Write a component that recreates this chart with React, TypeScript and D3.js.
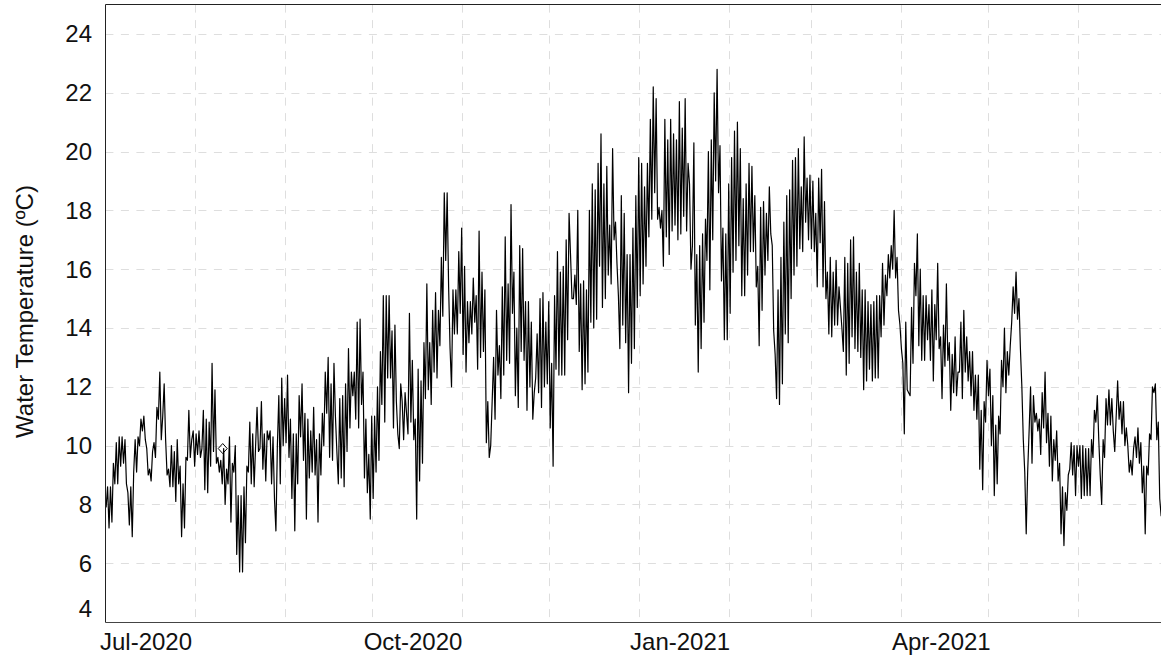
import React from "react";
import * as d3 from "d3";

// Water temperature (ºC), two readings per day (first and second half of each day)
const jul2020 = [7.9, 8.6, 7.2, 8.6, 7.4, 9.4, 8.7, 10.1, 8.7, 10.3, 9.3, 10.3, 9.4, 10.2, 8.7, 8.4, 7.3, 8.6, 6.9, 9.1, 10.2, 9.1, 10.3, 10.0, 10.9, 10.5, 11.0, 10.2, 9.9, 9.0, 9.2, 8.8, 9.8, 10.1, 9.6, 11.3, 10.9, 12.5, 10.2, 11.0, 12.1, 10.2, 9.0, 9.2, 8.6, 10.0, 8.6, 9.8, 8.1, 10.2, 8.7, 9.3, 6.9, 8.7, 7.2, 9.6, 9.5, 11.2, 9.6, 10.2, 10.5, 9.3];
const aug2020 = [10.4, 9.7, 10.5, 9.6, 9.9, 11.2, 8.5, 10.9, 8.4, 10.8, 9.3, 12.8, 9.8, 11.9, 9.4, 9.6, 9.1, 9.5, 8.7, 9.9, 8.0, 9.2, 8.7, 10.3, 7.4, 9.4, 9.1, 10.0, 6.3, 8.3, 5.7, 8.3, 5.7, 8.6, 6.7, 9.3, 9.1, 10.8, 8.7, 10.4, 8.6, 10.0, 11.3, 9.8, 9.9, 11.5, 9.2, 10.4, 8.8, 10.5, 10.2, 10.5, 8.7, 10.3, 8.2, 7.1, 10.0, 11.7, 8.7, 12.3, 10.0, 11.6];
const sep2020 = [10.1, 12.4, 9.6, 10.9, 8.2, 10.4, 7.1, 10.4, 8.7, 11.7, 10.3, 12.1, 9.5, 11.1, 7.5, 10.9, 8.9, 10.5, 9.1, 11.3, 9.0, 10.2, 7.4, 10.4, 9.0, 11.1, 10.0, 12.5, 11.1, 13.0, 9.6, 12.1, 9.5, 12.8, 11.0, 9.8, 8.7, 11.6, 8.9, 11.7, 8.6, 12.1, 9.8, 13.3, 10.6, 12.5, 11.7, 12.5, 10.9, 14.2, 10.6, 14.3, 11.4, 12.5, 8.9, 10.9, 8.4, 9.7, 7.5, 11.0];
const oct2020 = [8.2, 11.0, 9.1, 12.0, 9.5, 13.2, 11.4, 15.1, 10.8, 15.1, 12.3, 15.1, 12.3, 13.9, 10.6, 14.1, 11.5, 10.4, 9.9, 12.1, 11.5, 10.2, 11.8, 11.1, 10.4, 14.5, 10.8, 12.9, 10.2, 10.9, 7.5, 12.6, 8.8, 12.2, 9.4, 13.5, 11.6, 15.5, 11.9, 13.5, 11.4, 14.6, 12.5, 15.2, 12.3, 14.6, 13.4, 16.4, 14.4, 18.6, 16.3, 18.6, 15.4, 13.3, 12.0, 15.3, 13.8, 15.3, 13.8, 16.6, 14.5, 17.4];
const nov2020 = [13.1, 16.1, 12.5, 14.9, 13.5, 14.9, 13.8, 15.7, 14.2, 15.1, 12.6, 17.3, 13.0, 15.9, 13.2, 15.3, 10.1, 11.5, 9.6, 10.0, 11.5, 13.0, 10.9, 14.6, 12.4, 13.4, 11.6, 15.4, 12.4, 17.1, 12.9, 15.5, 12.8, 18.2, 14.5, 15.9, 11.7, 14.0, 11.3, 16.8, 13.2, 16.7, 12.9, 14.9, 11.2, 14.9, 12.0, 14.2, 10.9, 11.8, 12.3, 13.8, 11.8, 15.0, 11.3, 15.2, 12.0, 14.2, 12.1, 14.9];
const dec2020 = [10.6, 12.8, 9.3, 15.1, 12.6, 16.6, 12.4, 15.9, 12.4, 16.1, 12.4, 17.0, 13.6, 17.9, 16.5, 15.0, 15.0, 15.8, 14.8, 18.0, 13.2, 15.5, 11.9, 15.6, 12.1, 15.3, 12.5, 18.0, 14.2, 18.9, 14.0, 18.7, 14.3, 19.6, 16.1, 20.6, 14.7, 18.9, 15.0, 19.5, 15.8, 17.5, 15.5, 20.1, 17.0, 17.6, 16.2, 15.1, 13.3, 18.5, 14.1, 17.9, 13.5, 16.5, 11.8, 16.5, 12.8, 17.4, 13.3, 18.5, 14.7, 19.8];
const jan2021 = [15.1, 19.6, 15.5, 18.8, 16.1, 19.6, 17.1, 21.1, 17.7, 22.2, 18.6, 21.8, 17.7, 18.1, 17.4, 18.0, 16.1, 21.1, 17.1, 20.4, 16.5, 21.1, 17.3, 20.6, 17.5, 20.4, 17.0, 21.7, 17.2, 20.8, 17.8, 21.8, 17.3, 19.6, 18.9, 16.0, 16.8, 20.3, 14.1, 16.5, 12.5, 16.8, 13.3, 17.2, 14.2, 17.7, 16.3, 20.0, 15.3, 20.4, 17.0, 22.0, 19.0, 22.8, 18.6, 20.2, 15.6, 17.4, 13.6, 17.2, 13.6, 18.9];
const feb2021 = [14.5, 19.8, 15.9, 20.7, 16.3, 21.0, 16.8, 20.1, 15.1, 18.4, 15.1, 18.9, 15.8, 19.6, 16.6, 19.5, 16.6, 18.5, 15.4, 16.1, 13.4, 18.1, 14.6, 18.3, 15.8, 17.9, 16.3, 18.8, 17.2, 16.8, 13.9, 13.1, 11.6, 15.3, 11.4, 16.4, 12.1, 17.6, 13.8, 18.5, 13.5, 18.7, 15.0, 19.7, 15.8, 19.8, 16.1, 20.1, 16.7, 18.8, 16.6, 20.5, 17.6, 19.1, 17.0, 19.2];
const mar2021 = [16.7, 19.0, 16.6, 17.9, 15.4, 19.1, 16.9, 19.4, 15.4, 18.3, 15.0, 15.9, 13.8, 16.4, 13.7, 15.9, 14.1, 16.3, 14.1, 15.4, 14.7, 14.0, 13.2, 16.4, 12.4, 16.2, 12.8, 17.0, 13.7, 17.1, 13.3, 15.9, 13.2, 16.2, 13.0, 15.3, 11.9, 15.3, 12.2, 14.9, 12.6, 14.8, 12.2, 14.9, 12.3, 15.1, 12.3, 15.1, 13.7, 16.2, 14.1, 15.8, 15.1, 16.5, 15.7, 16.8, 16.0, 18.0, 15.7, 16.4, 14.6, 14.1];
const apr2021 = [13.3, 12.8, 10.4, 14.2, 11.9, 11.8, 11.7, 14.7, 12.8, 16.2, 15.1, 17.2, 13.4, 16.0, 12.9, 15.1, 12.9, 15.1, 13.6, 14.8, 12.9, 15.3, 12.2, 14.8, 13.6, 16.2, 13.3, 13.7, 11.6, 14.1, 12.7, 15.5, 12.9, 13.5, 11.2, 13.1, 11.8, 13.7, 11.7, 12.5, 12.5, 14.2, 11.6, 14.6, 12.5, 13.7, 12.2, 13.2, 11.7, 13.2, 11.2, 12.4, 10.9, 12.4, 9.2, 11.2, 8.5, 11.5, 10.8, 12.9];
const may2021 = [11.7, 12.6, 10.0, 11.7, 8.3, 10.7, 8.7, 11.0, 10.4, 12.9, 12.0, 14.0, 11.8, 13.2, 12.4, 13.4, 14.2, 15.4, 14.5, 15.9, 14.3, 15.0, 13.3, 12.0, 10.2, 9.1, 7.0, 9.1, 10.5, 12.0, 9.4, 11.7, 10.8, 11.1, 10.5, 10.9, 9.7, 11.8, 10.6, 12.5, 10.1, 11.1, 9.3, 11.0, 8.8, 10.2, 9.5, 10.5, 8.8, 9.4, 7.0, 8.6, 6.6, 8.4, 7.8, 9.0, 9.2, 10.1, 9.0, 10.0, 8.3, 10.0];
const jun2021 = [9.3, 10.0, 8.2, 10.0, 8.3, 9.9, 8.3, 9.9, 8.3, 10.2, 9.6, 11.2, 10.8, 11.7, 10.2, 9.0, 8.0, 10.2, 9.6, 11.6, 10.7, 11.9, 10.7, 11.6, 10.5, 9.8, 11.0, 12.2, 10.9, 11.5, 10.4, 11.5, 10.0, 10.6, 10.0, 9.1, 9.5, 9.0, 9.9, 10.3, 9.6, 10.6, 9.4, 10.1, 8.4, 9.3, 7.0, 9.3, 9.0, 10.4, 10.2, 12.0, 11.8, 12.1, 10.2, 10.8, 8.2, 7.6];

const monthStarts = [
  [2020, 6], [2020, 7], [2020, 8], [2020, 9], [2020, 10], [2020, 11],
  [2021, 0], [2021, 1], [2021, 2], [2021, 3], [2021, 4], [2021, 5],
];
const monthValues = [jul2020, aug2020, sep2020, oct2020, nov2020, dec2020, jan2021, feb2021, mar2021, apr2021, may2021, jun2021];

// single flagged reading (diamond marker)
const markerDates = [new Date(Date.UTC(2020, 7, 10, 10))];
const markerValues = [9.9];

const yTicks = [4, 6, 8, 10, 12, 14, 16, 18, 20, 22, 24];
const xLabelMonths = [new Date(Date.UTC(2020, 6, 15)), new Date(Date.UTC(2020, 9, 15)), new Date(Date.UTC(2021, 0, 15)), new Date(Date.UTC(2021, 3, 15))];
const yTitle = "Water Temperature (ºC)";

type Pt = { date: Date; value: number };

const DAY = 86400000;
const series: Pt[] = monthValues.flatMap((vals, mi) => {
  const start = Date.UTC(monthStarts[mi][0], monthStarts[mi][1], 1);
  return vals.map((v, i) => ({
    date: new Date(start + (Math.floor(i / 2) + (i % 2 ? 0.75 : 0.25)) * DAY),
    value: v,
  }));
});

export default function App() {
  const W = 1161;
  const H = 660;
  const left = 105.4;
  const right = 1164.8;
  const top = 4.6;
  const bottom = 622;

  const x = d3
    .scaleUtc()
    .domain([new Date(Date.UTC(2020, 6, 1)), new Date(Date.UTC(2021, 6, 1))])
    .range([left, right]);
  const y = d3.scaleLinear().domain([4, 25]).range([bottom, top]);

  const line = d3
    .line<Pt>()
    .x((d) => x(d.date))
    .y((d) => y(d.value));

  const monthGrid = d3.utcMonth.range(new Date(Date.UTC(2020, 7, 1)), new Date(Date.UTC(2021, 6, 1)));
  const fmt = d3.utcFormat("%b-%Y");
  const font = '"Liberation Sans", Arial, Helvetica, sans-serif';

  return (
    <svg
      width={W}
      height={H}
      style={{ position: "absolute", left: 0, top: 0, display: "block", background: "#fff" }}
      fontFamily={font}
    >
      <defs>
        <clipPath id="plotClip">
          <rect x={left} y={top} width={right - left} height={bottom - top} />
        </clipPath>
      </defs>
      <rect x={0} y={0} width={W} height={H} fill="#fff" />
      {/* grid */}
      <g stroke="#dedede" strokeWidth={1} strokeDasharray="8,7.5">
        {yTicks
          .filter((t) => t > 4)
          .map((t) => (
            <line key={"gy" + t} x1={left} x2={right} y1={Math.round(y(t)) + 0.5} y2={Math.round(y(t)) + 0.5} />
          ))}
        {monthGrid.map((m) => (
          <line key={"gx" + m.getTime()} x1={Math.round(x(m)) + 0.5} x2={Math.round(x(m)) + 0.5} y1={top} y2={bottom} />
        ))}
      </g>
      {/* series */}
      <path
        d={line(series) || ""}
        fill="none"
        stroke="#000"
        strokeWidth={1.2}
        strokeLinejoin="round"
        clipPath="url(#plotClip)"
      />
      {markerDates.map((dt, i) => {
        const cx = x(dt);
        const cy = y(markerValues[i]);
        return (
          <path
            key={"mk" + i}
            d={`M${cx},${cy - 5}L${cx + 4.5},${cy}L${cx},${cy + 5}L${cx - 4.5},${cy}Z`}
            fill="none"
            stroke="#000"
            strokeWidth={1}
          />
        );
      })}
      {/* frame */}
      <g stroke="#222" strokeWidth={1} fill="none">
        <line x1={105.5} x2={105.5} y1={4.5} y2={622.5} />
        <line x1={105.5} x2={W} y1={622.5} y2={622.5} stroke="#444" />
        <line x1={105.5} x2={W} y1={4.5} y2={4.5} />
      </g>
      {/* y tick labels */}
      <g fontSize={24} fill="#111" textAnchor="end">
        {yTicks.map((t) => (
          <text key={"yl" + t} x={92} y={Math.min(y(t), 609)} dy="0.35em">
            {t}
          </text>
        ))}
      </g>
      {/* x tick labels */}
      <g fontSize={24} fill="#111" textAnchor="middle">
        {xLabelMonths.map((m) => (
          <text key={"xl" + m.getTime()} x={x(m)} y={650}>
            {fmt(m)}
          </text>
        ))}
      </g>
      <text
        transform={`translate(33,311.5) rotate(-90)`}
        textAnchor="middle"
        fontSize={24}
        fill="#111"
      >
        {yTitle}
      </text>
    </svg>
  );
}
